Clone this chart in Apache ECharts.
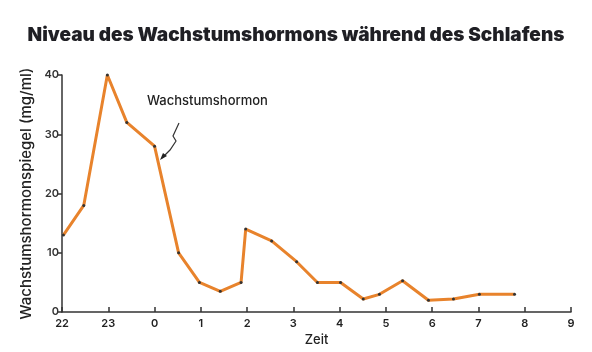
<!DOCTYPE html>
<html><head><meta charset="utf-8">
<script src="https://cdn.jsdelivr.net/npm/echarts@6/dist/echarts.min.js"></script>
<style>html,body{margin:0;padding:0;background:#fff}#c{width:592px;height:352px}</style>
</head><body><div id="c"></div>
<script>
// hours after 22:00
var hours = [0.03,0.47,0.98,1.40,2.0,2.52,2.97,3.42,3.87,3.97,4.53,5.07,5.52,6.02,6.51,6.86,7.36,7.92,8.46,9.02,9.78];
var levels = [13,18,40,32,28,10,5,3.5,5,14,12,8.5,5,5,2.2,3,5.3,2,2.2,3,3];
var tickLabels = ['22','23','0','1','2','3','4','5','6','7','8','9'];
var title = 'Niveau des Wachstumshormons während des Schlafens';
var seriesName = 'Wachstumshormon';

var chart = echarts.init(document.getElementById('c'));
chart.setOption({
  animation: false,
  backgroundColor: '#fff',
  title: {text: title, left: 'center', top: 21,
    textStyle: {fontFamily: 'Inter', fontWeight: 900, fontSize: 19, color: '#1f1f24'}},
  grid: {left: 62, right: 21, top: 75, bottom: 37},
  xAxis: {type: 'value', min: 0, max: 11, interval: 1,
    name: 'Zeit', nameLocation: 'middle', nameGap: 20,
    nameTextStyle: {fontFamily: 'Inter', fontSize: 13, color: '#222', fontWeight: 500},
    axisLine: {lineStyle: {color: '#333', width: 1.5}},
    axisTick: {inside: true, length: 5, lineStyle: {color: '#333', width: 1.5}},
    splitLine: {show: false},
    axisLabel: {fontFamily: 'Inter', fontSize: 11, fontWeight: 600, color: '#222', margin: 6,
      formatter: function(v){ return tickLabels[Math.round(v)]; }}},
  yAxis: {type: 'value', min: 0, max: 40, interval: 10,
    name: 'Wachstumshormonspiegel (mg/ml)', nameLocation: 'middle', nameGap: 24,
    nameTextStyle: {fontFamily: 'Inter', fontSize: 15, color: '#222', fontWeight: 500},
    axisLine: {show: true, lineStyle: {color: '#333', width: 1.5}},
    axisTick: {show: true, length: 4, lineStyle: {color: '#333', width: 1.5}},
    splitLine: {show: false},
    axisLabel: {fontFamily: 'Inter', fontSize: 11, fontWeight: 600, color: '#333', margin: 3}},
  series: [{
    name: seriesName, type: 'line',
    data: hours.map(function(h,i){ return [h, levels[i]]; }),
    lineStyle: {color: '#E8832C', width: 3},
    symbol: 'circle', symbolSize: 3,
    itemStyle: {color: '#333', borderWidth: 0},
    z: 3
  }],
  graphic: [
    {type: 'text', left: 147, top: 95,
      style: {text: seriesName, fontFamily: 'Inter', fontSize: 13, fontWeight: 500, fill: '#222'}},
    {type: 'polyline', shape: {points: [[179,123],[173,136],[176,141],[170,150],[162,158]]},
      style: {stroke: '#333', lineWidth: 1.2, fill: null}},
    {type: 'polygon', shape: {points: [[160,160],[163,153],[167,156]]},
      style: {fill: '#222'}}
  ]
});
</script></body></html>
